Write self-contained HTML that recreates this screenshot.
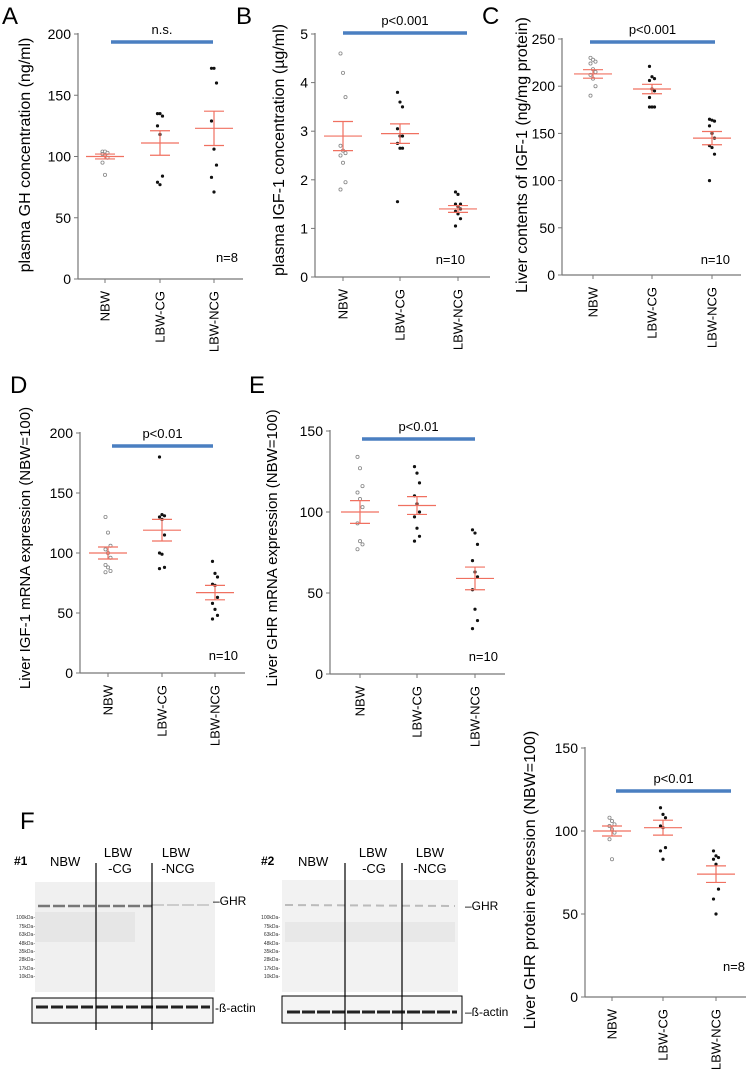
<!DOCTYPE html>
<html><head><meta charset="utf-8"><style>
body{margin:0;background:#fff;}
svg{display:block;font-family:"Liberation Sans",sans-serif;}
</style></head><body>
<svg id="fig" width="746" height="1076" viewBox="0 0 746 1076">
<g>
<text x="20" y="829" font-size="24">F</text>
<text x="14" y="865" font-size="12" font-weight="bold">#1</text>
<text x="50" y="866" font-size="13">NBW</text>
<text x="118" y="857" font-size="13" text-anchor="middle"><tspan x="118">LBW</tspan><tspan x="120" dy="16">-CG</tspan></text>
<text x="178" y="857" font-size="13" text-anchor="middle"><tspan x="176">LBW</tspan><tspan x="178" dy="16">-NCG</tspan></text>
<rect x="35" y="882" width="180" height="110" fill="#f0f0f0"/>
<line x1="38" y1="906" x2="152" y2="906" stroke="#777" stroke-width="2.5" stroke-dasharray="12 3"/>
<line x1="152" y1="905" x2="212" y2="905" stroke="#ccc" stroke-width="2" stroke-dasharray="12 3"/>
<rect x="35" y="912" width="100" height="30" fill="#e6e6e6"/>
<text x="213" y="905" font-size="12">–GHR</text>
<g font-size="5" fill="#333" text-anchor="end">
<text x="35" y="919">100kDa-</text><text x="35" y="928">75kDa-</text><text x="35" y="936">63kDa-</text><text x="35" y="945">48kDa-</text><text x="35" y="953">35kDa-</text><text x="35" y="961">28kDa-</text><text x="35" y="970">17kDa-</text><text x="35" y="978">10kDa-</text></g>
<rect x="32" y="998" width="181" height="25" fill="#f4f4f4" stroke="#000"/>
<line x1="36" y1="1007" x2="210" y2="1007" stroke="#222" stroke-width="3" stroke-dasharray="12 3"/>
<text x="215" y="1012" font-size="12">-ß-actin</text>
<line x1="96" y1="863" x2="96" y2="1030" stroke="#000" stroke-width="1.2"/>
<line x1="152" y1="863" x2="152" y2="1030" stroke="#000" stroke-width="1.2"/>

<text x="261" y="865" font-size="12" font-weight="bold">#2</text>
<text x="298" y="866" font-size="13">NBW</text>
<text x="373" y="857" font-size="13" text-anchor="middle"><tspan x="373">LBW</tspan><tspan x="374" dy="16">-CG</tspan></text>
<text x="430" y="857" font-size="13" text-anchor="middle"><tspan x="430">LBW</tspan><tspan x="430" dy="16">-NCG</tspan></text>
<rect x="282" y="880" width="176" height="112" fill="#f2f2f2"/>
<line x1="285" y1="905" x2="455" y2="906" stroke="#bbb" stroke-width="2" stroke-dasharray="8 5"/>
<rect x="285" y="922" width="170" height="20" fill="#e8e8e8"/>
<text x="465" y="910" font-size="12">–GHR</text>
<g font-size="5" fill="#333" text-anchor="end">
<text x="280" y="919">100kDa-</text><text x="280" y="928">75kDa-</text><text x="280" y="936">63kDa-</text><text x="280" y="945">48kDa-</text><text x="280" y="953">35kDa-</text><text x="280" y="961">28kDa-</text><text x="280" y="970">17kDa-</text><text x="280" y="978">10kDa-</text></g>
<rect x="282" y="996" width="180" height="27" fill="#f4f4f4" stroke="#000"/>
<line x1="287" y1="1012" x2="457" y2="1012" stroke="#222" stroke-width="3" stroke-dasharray="13 2"/>
<text x="465" y="1016" font-size="12">–ß-actin</text>
<line x1="345" y1="863" x2="345" y2="1030" stroke="#000" stroke-width="1.2"/>
<line x1="402" y1="863" x2="402" y2="1030" stroke="#000" stroke-width="1.2"/>
</g>
</svg>
<script>
const categories = ["NBW","LBW-CG","LBW-NCG"];
const aValues = [[104,104,103,102,101,99,95,85],[135,135,133,125,118,84,79,77],[172,172,160,129,106,93,83,71]];
const aMeans = [100,111,123]; const aSem = [2,10,14];
const aTicks = [0,50,100,150,200];
const bValues = [[4.6,4.2,3.7,2.7,2.6,2.55,2.5,2.35,1.95,1.8],[3.8,3.6,3.5,3.05,2.9,2.9,2.75,2.65,2.65,1.55],[1.75,1.7,1.5,1.5,1.45,1.4,1.35,1.3,1.2,1.05]];
const bMeans = [2.9,2.95,1.4]; const bSem = [0.3,0.2,0.07];
const bTicks = [0,1,2,3,4,5];
const cValues = [[230,228,226,224,218,215,212,208,200,190],[221,210,208,206,197,195,188,178,178,178],[165,164,163,158,150,145,137,135,128,100]];
const cMeans = [213,197,145]; const cSem = [4.5,5,7];
const cTicks = [0,50,100,150,200,250];
const dValues = [[130,117,106,103,100,96,90,88,85,84],[180,132,131,130,128,115,100,99,88,87],[93,83,80,74,73,63,58,53,48,45]];
const dMeans = [100,119,67]; const dSem = [5,9,6];
const dTicks = [0,50,100,150,200];
const eValues = [[134,127,116,112,108,103,93,82,80,77],[128,124,118,110,105,100,97,90,85,82],[89,87,80,70,63,60,52,40,33,28]];
const eMeans = [100,104,59]; const eSem = [7,5.5,7];
const eTicks = [0,50,100,150];
const gValues = [[108,106,104,103,101,99,95,83],[114,110,108,103,102,90,88,83],[88,85,84,83,80,65,59,50]];
const gMeans = [100,102,74]; const gSem = [3,4.5,5];
const gTicks = [0,50,100,150];

const NS="http://www.w3.org/2000/svg";
const svg=document.getElementById('fig');
function mk(tag,attrs,parent){const e=document.createElementNS(NS,tag);for(const k in attrs)e.setAttribute(k,attrs[k]);(parent||svg).appendChild(e);return e;}

function panel(p){
  const g=mk('g',{});
  
  
  const yS=v=>p.y0-(v-p.tmin)/(p.tmax-p.tmin)*(p.y0-p.y1);
  const xS=i=>p.cx[i];
  if(p.label){const t=mk('text',{x:p.lx,y:p.ly,'font-size':24},g);t.textContent=p.label;
    
    }
  const ax=mk('line',{x1:p.ax,y1:p.y1-1,x2:p.ax,y2:p.y0,stroke:'#777','stroke-width':1.2},g);
  
  
  const xa=mk('line',{x1:p.ax,y1:p.y0,x2:p.xend,y2:p.y0,stroke:'#777','stroke-width':1.2},g);
  
  
  p.ticks.forEach(v=>{
    const y=yS(v);
    mk('line',{x1:p.ax-4,y1:y,x2:p.ax,y2:y,stroke:'#777'},g);
    const t=mk('text',{x:p.ax-7,y:y+5,'font-size':14,'text-anchor':'end'},g);
    t.textContent=v;
    
    
  });
  categories.forEach((c,i)=>{
    const x=xS(i);
    mk('line',{x1:x,y1:p.y0,x2:x,y2:p.y0+4,stroke:'#777'},g);
    const t=mk('text',{x:x+4.5,y:p.y0+12,'font-size':13,'text-anchor':'end',transform:`rotate(-90 ${x+4.5} ${p.y0+12})`},g);
    t.textContent=c;
    
    
  });
  const tt=mk('text',{x:p.tx,y:p.ty,'font-size':p.tf||16,'text-anchor':'middle',transform:`rotate(-90 ${p.tx} ${p.ty})`},g);
  tt.textContent=p.title;
  
  
  p.vals.forEach((arr,i)=>{
    arr.forEach((v,j)=>{
      const off=((j%3)-1)*2.5;
      const d=mk('circle',{cx:xS(i)+off,cy:yS(v),r:1.6,fill:i===0?'#fff':'#111',stroke:i===0?'#888':'none','stroke-width':0.8},g);
      
      
    });
    const m=yS(p.means[i]),hi=yS(p.means[i]+p.sem[i]),lo=yS(p.means[i]-p.sem[i]),x=xS(i);
    const eg=mk('g',{stroke:'#f07060','stroke-width':1.2},g);
    
    
    mk('line',{x1:x-19,y1:m,x2:x+19,y2:m},eg);
    mk('line',{x1:x-10,y1:hi,x2:x+10,y2:hi},eg);
    mk('line',{x1:x-10,y1:lo,x2:x+10,y2:lo},eg);
    mk('line',{x1:x,y1:hi,x2:x,y2:lo},eg);
  });
  const b=mk('line',{x1:p.bx1,y1:p.by,x2:p.bx2,y2:p.by,stroke:'#4a7fc1','stroke-width':3.5},g);
  
  
  const st=mk('text',{x:(p.bx1+p.bx2)/2,y:p.by-8,'font-size':13,'text-anchor':'middle'},g);
  st.textContent=p.sig;
  
  
  const nt=mk('text',{x:p.nx,y:p.ny,'font-size':13,'text-anchor':'end'},g);
  nt.textContent=p.n;
  
  
}
panel({id:'a',label:'A',lx:2,ly:24,ax:78,y0:279,y1:34,tmin:0,tmax:200,ticks:aTicks,cx:[105,160,214],xend:243,
  title:'plasma GH concentration (ng/ml)',tx:30,ty:155,vals:aValues,means:aMeans,sem:aSem,bx1:111,bx2:213,by:42,sig:'n.s.',n:'n=8',nx:238,ny:262});
panel({id:'b',label:'B',lx:236,ly:24,ax:315,y0:277,y1:34,tmin:0,tmax:5,ticks:bTicks,cx:[343,400,458],xend:490,
  title:'plasma IGF-1 concentration (µg/ml)',tx:284,ty:150,vals:bValues,means:bMeans,sem:bSem,bx1:343,bx2:467,by:33,sig:'p<0.001',n:'n=10',nx:465,ny:264});
panel({id:'c',label:'C',lx:482,ly:24,ax:562,y0:275,y1:39,tmin:0,tmax:250,ticks:cTicks,cx:[593,652,712],xend:741,
  title:'Liver contents of IGF-1 (ng/mg protein)',tx:527,ty:155,vals:cValues,means:cMeans,sem:cSem,bx1:590,bx2:715,by:42,sig:'p<0.001',n:'n=10',nx:730,ny:264});
panel({id:'d',label:'D',lx:10,ly:393,ax:80,y0:673,y1:433,tmin:0,tmax:200,ticks:dTicks,cx:[108,162,215],xend:245,
  title:'Liver IGF-1 mRNA expression (NBW=100)',tf:15,tx:30,ty:548,vals:dValues,means:dMeans,sem:dSem,bx1:112,bx2:213,by:446,sig:'p<0.01',n:'n=10',nx:238,ny:660});
panel({id:'e',label:'E',lx:249,ly:393,ax:330,y0:674,y1:431,tmin:0,tmax:150,ticks:eTicks,cx:[360,417,475],xend:505,
  title:'Liver GHR mRNA expression (NBW=100)',tf:15,tx:277,ty:548,vals:eValues,means:eMeans,sem:eSem,bx1:362,bx2:475,by:439,sig:'p<0.01',n:'n=10',nx:498,ny:661});
panel({id:'g',label:'',ax:585,y0:997,y1:748,tmin:0,tmax:150,ticks:gTicks,cx:[612,663,716],xend:746,
  title:'Liver GHR protein expression (NBW=100)',tx:535,ty:880,vals:gValues,means:gMeans,sem:gSem,bx1:616,bx2:731,by:791,sig:'p<0.01',n:'n=8',nx:745,ny:971});
</script>
</body></html>
